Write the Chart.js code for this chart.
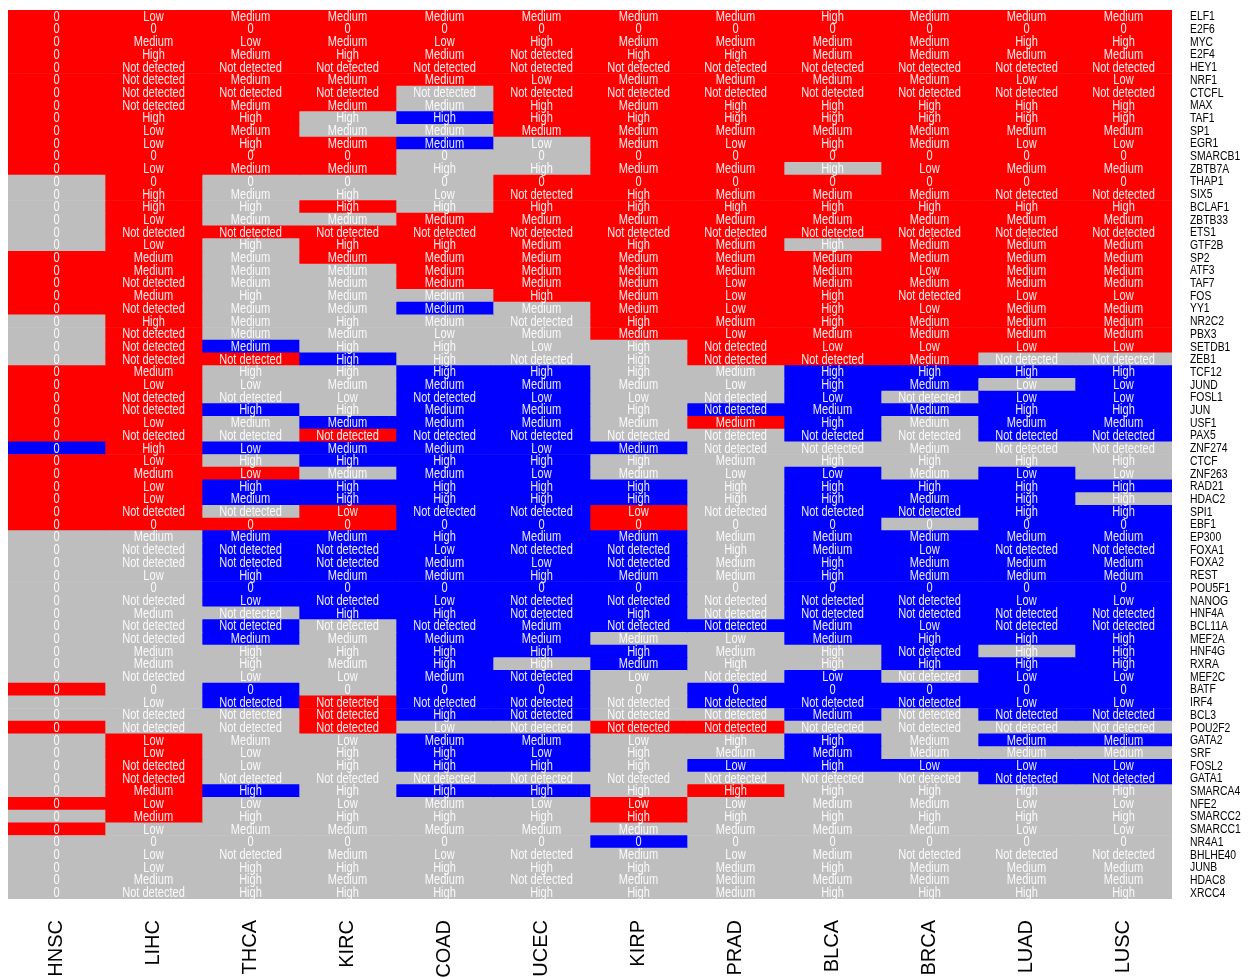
<!DOCTYPE html>
<html>
<head>
<meta charset="utf-8">
<title>Transcription factor expression by tumour type</title>
<script src="https://cdn.jsdelivr.net/npm/chart.js@4.4.1/dist/chart.umd.min.js"></script>
<style>
  html, body { margin: 0; padding: 0; background: #ffffff; }
  #wrap { width: 1252px; height: 979px; position: relative; overflow: hidden; }
</style>
</head>
<body>
<div id="wrap"><canvas id="heat" width="1252" height="979"></canvas></div>
<script>
// Tumour types (columns, left to right)
const tumors = ['HNSC', 'LIHC', 'THCA', 'KIRC', 'COAD', 'UCEC', 'KIRP', 'PRAD', 'BLCA', 'BRCA', 'LUAD', 'LUSC'];

// Transcription factors (rows, top to bottom)
const genes = ['ELF1','E2F6','MYC','E2F4','HEY1','NRF1','CTCFL','MAX','TAF1','SP1',
  'EGR1','SMARCB1','ZBTB7A','THAP1','SIX5','BCLAF1','ZBTB33','ETS1','GTF2B','SP2',
  'ATF3','TAF7','FOS','YY1','NR2C2','PBX3','SETDB1','ZEB1','TCF12','JUND',
  'FOSL1','JUN','USF1','PAX5','ZNF274','CTCF','ZNF263','RAD21','HDAC2','SPI1',
  'EBF1','EP300','FOXA1','FOXA2','REST','POU5F1','NANOG','HNF4A','BCL11A','MEF2A',
  'HNF4G','RXRA','MEF2C','BATF','IRF4','BCL3','POU2F2','GATA2','SRF','FOSL2',
  'GATA1','SMARCA4','NFE2','SMARCC2','SMARCC1','NR4A1','BHLHE40','JUNB','HDAC8','XRCC4'];

// Expression level per gene (0 = "0", L = Low, M = Medium, H = High, N = Not detected)
const cells = s => s.replace(/ /g, '').split('');
const levelHNSC = cells('0000000000 0000000000 0000000000 0000000000 0000000000 0000000000 0000000000');
const levelLIHC = cells('L0MHNNNNHL L0L0HHLNLM MNMNHNNNML NNLNHLMLLN 0MNNL0NMNN MMN0LNNLLN NMLML0LLMN');
const levelTHCA = cells('M0LMNMNMHM H0M0MHMNHM MMHMMMMNHL NHMNLHLHMN 0MNNH0LNNM HHL0NNNMLL NHLHM0NHHH');
const levelKIRC = cells('M0MHNMNMHM M0M0HHMNHM MMMMHMHHHM LHMNMHMHHL 0MNNM0NHNM HML0NNNLHH NHLHM0MHMH');
const levelCOAD = cells('M0LMNMNMHM M0H0LHMNHM MMMMMLHHHM NMMNMHMHHN 0HLMM0LHNM HHM0NHLMHH NHMHM0LHMH');
const levelUCEC = cells('M0HNNLNHHM L0H0NHMNMM MMHMNMLNHM LMMNLHLHHN 0MNLH0NNMM HHN0NNNMLH NHLHM0NHNH');
const levelKIRP = cells('M0MHNMNMHM M0M0HHMNHM MMMMHMHHHM LHMNMHMHHL 0MNNM0NHNM HML0NNNLHH NHLHM0MHMH');
const levelPRAD = cells('M0MHNMNHHM L0M0MHMNMM MLLLMLNNML NNMNNMLHHN 0MHMM0NNNL MHN0NNNHML NHLHM0LMMM');
const levelBLCA = cells('H0MMNMNHHM H0H0MHMNHM MMHHHMLNHH LMHNNHLHHN 0MMHH0NNMM HHL0NMNHMH NHMHM0MHMH');
const levelBRCA = cells('M0MMNMNHHM M0L0MHMNMM LMNLMMLMHM NMMNMHMHMN 0MLMM0NNLH NHN0NNNMML NHMHM0NMMH');
const levelLUAD = cells('M0HMNLNHHM L0M0NHMNMM MMLMMMLNHL LHMNNHLHHH 0MNMM0LNNH HHL0LNNMML NHLHL0NMMH');
const levelLUSC = cells('M0HMNLNHHM L0M0NHMNMM MMLMMMLNHL LHMNNHLHHH 0MNMM0LNNH HHL0LNNMML NHLHL0NMMH');

// Binding class per gene (R = red, B = blue, G = grey)
const classHNSC = cells('RRRRRRRRRR RRRGGGGGGR RRRRGGGGRR RRRRBRRRRR RGGGGGGGGG GGGRGGRGGG GGRGRGGGGG');
const classLIHC = cells('RRRRRRRRRR RRRRRRRRRR RRRRRRRRRR RRRRRRRRRR RGGGGGGGGG GGGGGGGRRR RRRRGGGGGG');
const classTHCA = cells('RRRRRRRRRR RRRGGGGRGG GGGGGGBRGG GBGGBGRBBG RBBBBBBGBB GGGBBGGGGG GBGGGGGGGG');
const classKIRC = cells('RRRRRRRRGG RRRGGRGRRR GGGGGGGBGG GGBRBBGBBR RBBBBBBBGG GGGGRRRGGG GGGGGGGGGG');
const classCOAD = cells('RRRRRRGGBG BGGGGGRRRR RRGBGGGGBB BBBBBBBBBB BBBBBBBBBB BBBBBBGBBB GBGGGGGGGG');
const classUCEC = cells('RRRRRRRRRR GGGRRRRRRR RRRGGGGGBB BBBBBBBBBB BBBBBBBBBB BGBBBBGBBB GBGGGGGGGG');
const classKIRP = cells('RRRRRRRRRR RRRRRRRRRR RRRRRRGGGG GGGGBGGBBR RBBBBBBBBG BBGGGGRGGG GGRRGBGGGG');
const classPRAD = cells('RRRRRRRRRR RRRRRRRRRR RRRRRRRRGG GBRGGGGGGG GGGGGGGGBG GGGBBGRGGB GRGGGGGGGG');
const classBLCA = cells('RRRRRRRRRR RRGRRRRRGR RRRRRRRRBB BBBBGGBBBB BBBBBBBBBB GGBBBBGBBB GGGGGGGGGG');
const classBRCA = cells('RRRRRRRRRR RRRRRRRRRR RRRRRRRRBB GBGGGGGBBB GBBBBBBBBB BBGBBGGGGB GGGGGGGGGG');
const classLUAD = cells('RRRRRRRRRR RRRRRRRRRR RRRRRRRGBG BBBBGGBBBB BBBBBBBBBB GBBBBBGBGB BGGGGGGGGG');
const classLUSC = cells('RRRRRRRRRR RRRRRRRRRR RRRRRRRGBB BBBBGGGBGB BBBBBBBBBB BBBBBBGBGB BGGGGGGGGG');

const levels = [levelHNSC, levelLIHC, levelTHCA, levelKIRC, levelCOAD, levelUCEC,
                levelKIRP, levelPRAD, levelBLCA, levelBRCA, levelLUAD, levelLUSC];
const classes = [classHNSC, classLIHC, classTHCA, classKIRC, classCOAD, classUCEC,
                 classKIRP, classPRAD, classBLCA, classBRCA, classLUAD, classLUSC];

const levelText = { '0': '0', L: 'Low', M: 'Medium', H: 'High', N: 'Not detected' };
const classFill = { R: '#ff0000', B: '#0000ff', G: '#bebebe' };

// One stacked horizontal bar segment per cell: each tumour type is a dataset
const datasets = tumors.map((t, j) => ({
  label: t,
  data: genes.map(() => 1),
  backgroundColor: classes[j].map(c => classFill[c]),
  borderWidth: 0,
  barPercentage: 1,
  categoryPercentage: 1,
  xAxisID: 'x',
  yAxisID: 'y',
  cellLevels: levels[j]
}));

// Writes the expression level inside each cell, in a condensed face
const cellText = {
  id: 'cellText',
  afterDatasetsDraw(chart) {
    const ctx = chart.ctx;
    ctx.save();
    ctx.font = '14px "Liberation Sans", Arial, sans-serif';
    ctx.fillStyle = 'rgba(255,255,255,0.92)';
    ctx.textAlign = 'center';
    ctx.textBaseline = 'middle';
    chart.data.datasets.forEach((ds, j) => {
      chart.getDatasetMeta(j).data.forEach((bar, i) => {
        const cx = (bar.x + bar.base) / 2;
        ctx.save();
        ctx.translate(cx, bar.y + 0.5);
        ctx.scale(0.79, 1);
        ctx.fillText(levelText[ds.cellLevels[i]], 0, 0);
        ctx.restore();
      });
    });
    ctx.restore();
  }
};

// Gene names beside the rows, placed at the y scale's tick positions in a narrow face
const geneLabels = {
  id: 'geneLabels',
  afterDraw(chart) {
    const ctx = chart.ctx;
    const ys = chart.scales.y;
    ctx.save();
    ctx.font = '12.5px "Liberation Sans", Arial, sans-serif';
    ctx.fillStyle = '#000000';
    ctx.textAlign = 'left';
    ctx.textBaseline = 'middle';
    ys.ticks.forEach((tk, i) => {
      ctx.save();
      ctx.translate(chart.chartArea.right + 18, ys.getPixelForTick(i) + 0.5);
      ctx.scale(0.83, 1);
      ctx.fillText(ys.getLabelForValue(tk.value), 0, 0);
      ctx.restore();
    });
    ctx.restore();
  }
};

new Chart(document.getElementById('heat'), {
  type: 'bar',
  data: { labels: genes, datasets },
  options: {
    indexAxis: 'y',
    responsive: false,
    animation: false,
    devicePixelRatio: 1,
    layout: { padding: { left: 8, top: 10, right: 0, bottom: 0 } },
    plugins: { legend: { display: false }, tooltip: { enabled: false } },
    scales: {
      x: { type: 'linear', stacked: true, min: 0, max: 12, display: false },
      y: {
        type: 'category',
        stacked: true,
        position: 'right',
        grid: { display: false, drawTicks: false },
        border: { display: false },
        ticks: { display: false, autoSkip: false },
        afterFit(scale) {
          scale.width = 80;
          scale.paddingTop = 0;
          scale.paddingBottom = 0;
        }
      },
      tumor: {
        type: 'category',
        labels: tumors,
        position: 'bottom',
        offset: true,
        grid: { display: false, drawTicks: false },
        border: { display: false },
        ticks: {
          autoSkip: false,
          minRotation: 90,
          maxRotation: 90,
          padding: 21,
          color: '#000000',
          font: { family: '"Liberation Sans", Arial, sans-serif', size: 20 }
        },
        afterFit(scale) {
          scale.height = 80;
          scale.paddingLeft = 0;
          scale.paddingRight = 0;
        }
      }
    }
  },
  plugins: [cellText, geneLabels]
});
</script>
</body>
</html>
